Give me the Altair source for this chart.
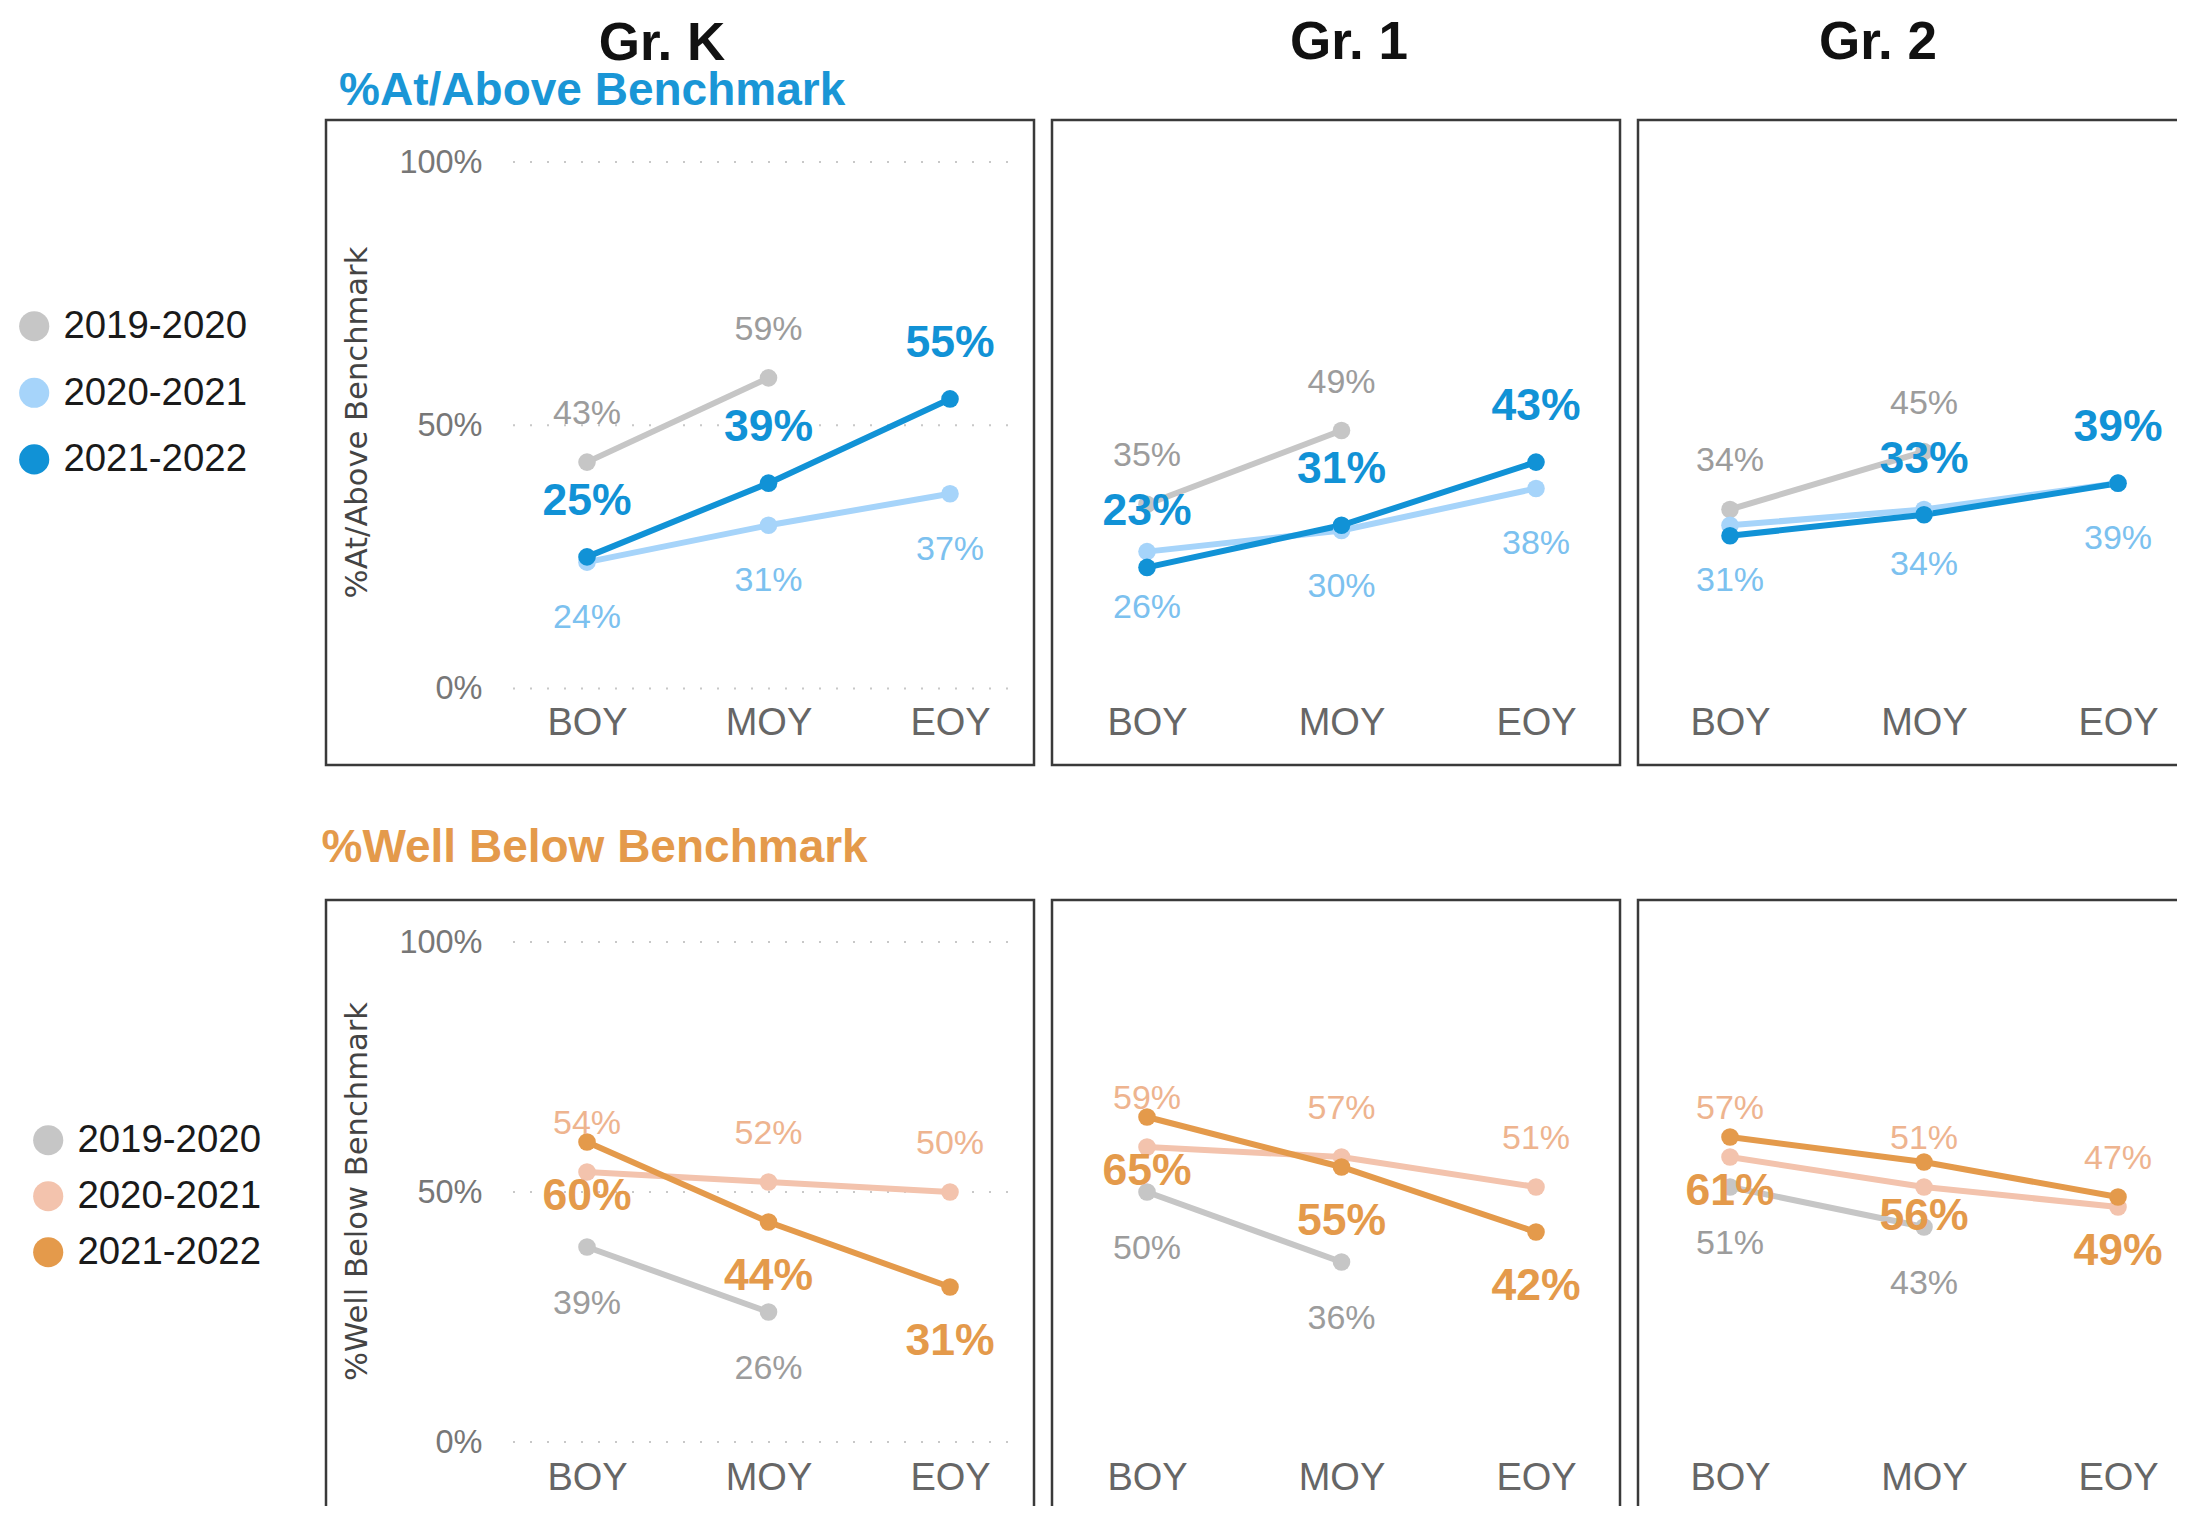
import altair as alt
import pandas as pd

periods = ["BOY", "MOY", "EOY"]
years = ["2019-2020", "2020-2021", "2021-2022"]
grades = ["Gr. K", "Gr. 1", "Gr. 2"]

# %At/Above Benchmark (percent), per grade and school year; None = not reported
above_k_1920 = [43, 59, None]
above_k_2021 = [24, 31, 37]
above_k_2122 = [25, 39, 55]
above_1_1920 = [35, 49, None]
above_1_2021 = [26, 30, 38]
above_1_2122 = [23, 31, 43]
above_2_1920 = [34, 45, None]
above_2_2021 = [31, 34, 39]
above_2_2122 = [29, 33, 39]

# %Well Below Benchmark (percent)
below_k_1920 = [39, 26, None]
below_k_2021 = [54, 52, 50]
below_k_2122 = [60, 44, 31]
below_1_1920 = [50, 36, None]
below_1_2021 = [59, 57, 51]
below_1_2122 = [65, 55, 42]
below_2_1920 = [51, 43, None]
below_2_2021 = [57, 51, 47]
below_2_2122 = [61, 56, 49]

grid_values = [0, 0.5, 1]

# labels hidden in the original because they overlap (metric, grade, year, period)
hidden_labels = [("above", "Gr. 2", "2021-2022", "BOY")]

series = {
    ("above", "Gr. K"): [above_k_1920, above_k_2021, above_k_2122],
    ("above", "Gr. 1"): [above_1_1920, above_1_2021, above_1_2122],
    ("above", "Gr. 2"): [above_2_1920, above_2_2021, above_2_2122],
    ("below", "Gr. K"): [below_k_1920, below_k_2021, below_k_2122],
    ("below", "Gr. 1"): [below_1_1920, below_1_2021, below_1_2122],
    ("below", "Gr. 2"): [below_2_1920, below_2_2021, below_2_2122],
}

rows = []
for (metric, grade), lists in series.items():
    for year, vals in zip(years, lists):
        for period, v in zip(periods, vals):
            if v is not None:
                rows.append({"metric": metric, "grade": grade, "year": year,
                             "period": period, "value": v / 100})
df = pd.DataFrame(rows)
hidden = set(hidden_labels)
df["show"] = [(m, g, y, p) not in hidden for m, g, y, p in
              zip(df.metric, df.grade, df.year, df.period)]
grid_df = pd.DataFrame({"g": grid_values})

FONT = "Liberation Sans, Arial, sans-serif"
CURRENT = "2021-2022"

ROWS = {
    "above": dict(
        section="%At/Above Benchmark", section_color="#1a96d6",
        axis_title="%At/Above Benchmark",
        colors=["#c6c6c6", "#a6d4fa", "#1192d6"],
        label_colors=["#9c9c9c", "#7cc1ef", "#1192d6"],
        yrange=[568.5, 42], xlab_offset=-42, ytitle_y=302,
        cur_dy=-55, prior_dy={"2019-2020": -48, "2020-2021": 56},
        legend=dict(legendX=-311, legendY=187, rowPadding=27.6),
    ),
    "below": dict(
        section="%Well Below Benchmark", section_color="#e49a4b",
        axis_title="%Well Below Benchmark",
        colors=["#c6c6c6", "#f3c3ad", "#e49a4b"],
        label_colors=["#9c9c9c", "#eeb48f", "#e49a4b"],
        yrange=[542, 42], xlab_offset=-67, ytitle_y=291,
        cur_dy=55, prior_dy={"2019-2020": 57, "2020-2021": -48},
        legend=dict(legendX=-297, legendY=221, rowPadding=17),
    ),
}

GRADES = {
    "Gr. K": dict(width=708, xrange=[261, 624], title_dx=-18, first=True),
    "Gr. 1": dict(width=568, xrange=[95, 484], title_dx=13, first=False),
    "Gr. 2": dict(width=568, xrange=[92, 480], title_dx=-44, first=False),
}
HEIGHT = 645
LEFT, TOP = 318, 112          # page position of the first panel (minus the 8px page margin)
PAGE_W, PAGE_H = 2169, 1498   # drawing size that fits the browser window


def panel(metric, grade, top_row):
    r = ROWS[metric]
    g = GRADES[grade]
    sub = df[(df.metric == metric) & (df.grade == grade)]
    lab = sub[sub.show]

    xs = alt.Scale(type="point", domain=periods, range=g["xrange"], padding=0)
    ys = alt.Scale(domain=[0, 1], range=r["yrange"], nice=False, zero=False)
    xaxis = alt.Axis(orient="bottom", offset=r["xlab_offset"], labelPadding=0, ticks=False,
                     domain=False, grid=False, labelFontSize=38, labelFont=FONT,
                     labelColor="#666666", labelBaseline="middle", labelAngle=0, title=None)
    if g["first"]:
        yaxis = alt.Axis(orient="left", offset=-156, values=grid_values, format=".0%",
                         labelPadding=0, ticks=False, domain=False, grid=False,
                         labelFontSize=32.5, labelFont=FONT, labelColor="#777777",
                         labelBaseline="middle",
                         title=r["axis_title"], titleFont="DejaVu Sans", titleFontSize=30.6,
                         titleFontWeight="normal", titleColor="#444444", titleX=-125,
                         titleY=r["ytitle_y"], titleAngle=270, titleAlign="center",
                         titleBaseline="middle")
    else:
        yaxis = None

    color_scale = alt.Scale(domain=years, range=r["colors"])
    fill_scale = alt.Scale(domain=years, range=r["label_colors"])
    if g["first"]:
        legend = alt.Legend(orient="none", title=None, symbolType="circle", symbolSize=908,
                            symbolStrokeWidth=0, symbolOpacity=1, labelFontSize=38.4,
                            labelFont=FONT, labelColor="#1a1a1a", labelOffset=10,
                            labelLimit=400, padding=0, **r["legend"])
    else:
        legend = None

    base = alt.Chart(sub)
    x = alt.X("period:N", sort=periods, scale=xs, axis=xaxis)
    y = alt.Y("value:Q", scale=ys, axis=yaxis)

    lines = base.mark_line(strokeWidth=6).encode(
        x=x, y=y, color=alt.Color("year:N", scale=color_scale, legend=legend))

    if top_row and g["first"]:
        top_axis = alt.Axis(orient="top", labels=False, ticks=False, domain=False, grid=False,
                            title=r["section"], titleFont=FONT, titleFontSize=46,
                            titleFontWeight="bold", titleColor=r["section_color"],
                            titleX=12.6, titleY=-30, titleAlign="left",
                            titleBaseline="middle", titleAngle=0)
        px = alt.X("period:N", sort=periods, scale=xs, axis=top_axis)
    else:
        px = alt.X("period:N", sort=periods, scale=xs, axis=None)
    points = base.mark_circle(size=310, opacity=1).encode(
        x=px, y=alt.Y("value:Q", scale=ys, axis=None),
        color=alt.Color("year:N", scale=color_scale, legend=None))

    layers = []
    if g["first"]:
        layers.append(alt.Chart(grid_df).mark_rule(
            color="#c8c8c8", strokeWidth=2, strokeDash=[2, 15]).encode(
            y=alt.Y("g:Q", scale=ys, axis=None), x=alt.value(187), x2=alt.value(688)))
    layers += [lines, points]

    lb = alt.Chart(lab)
    tx = alt.X("period:N", sort=periods, scale=xs, axis=None)
    ty = alt.Y("value:Q", scale=ys, axis=None)
    fill = alt.Fill("year:N", scale=fill_scale, legend=None)
    for yr, dy in r["prior_dy"].items():
        layers.append(lb.transform_filter(alt.datum.year == yr).mark_text(
            fontSize=34, font=FONT, baseline="middle", dy=dy).encode(
            x=tx, y=ty, fill=fill, text=alt.Text("value:Q", format=".0%")))
    layers.append(lb.transform_filter(alt.datum.year == CURRENT).mark_text(
        fontSize=44.5, font=FONT, fontWeight="bold", baseline="middle", dy=r["cur_dy"]).encode(
        x=tx, y=ty, fill=fill, text=alt.Text("value:Q", format=".0%")))

    ch = alt.layer(*layers).resolve_axis(x="independent", y="independent").properties(
        width=g["width"], height=HEIGHT)
    if top_row:
        ch = ch.properties(title=alt.Title(grade, fontSize=53, font=FONT, fontWeight="bold",
                                           color="#111111", anchor="middle",
                                           dx=g["title_dx"], dy=5,
                                           offset=1 if g["first"] else 55))
    elif g["first"]:
        ch = ch.properties(title=alt.Title(r["section"], fontSize=46, font=FONT,
                                           fontWeight="bold", color=r["section_color"],
                                           anchor="start", frame="group", dx=-4.5,
                                           offset=28.5))
    return ch


cells = [panel("above", gr, True) for gr in grades] + \
        [panel("below", gr, False) for gr in grades]

chart = alt.concat(*cells, columns=3, spacing={"row": 135, "column": 18},
                   bounds="flush", align="each").resolve_scale(
    color="independent", fill="independent", x="independent", y="independent").properties(
    autosize=alt.AutoSizeParams(type="none"),
    padding={"left": LEFT, "top": TOP, "right": PAGE_W - LEFT, "bottom": PAGE_H - TOP},
    background="white").configure_view(stroke="#3a3a3a", strokeWidth=2.5)

chart.save("out.html", embed_options={"renderer": "svg", "actions": False})
